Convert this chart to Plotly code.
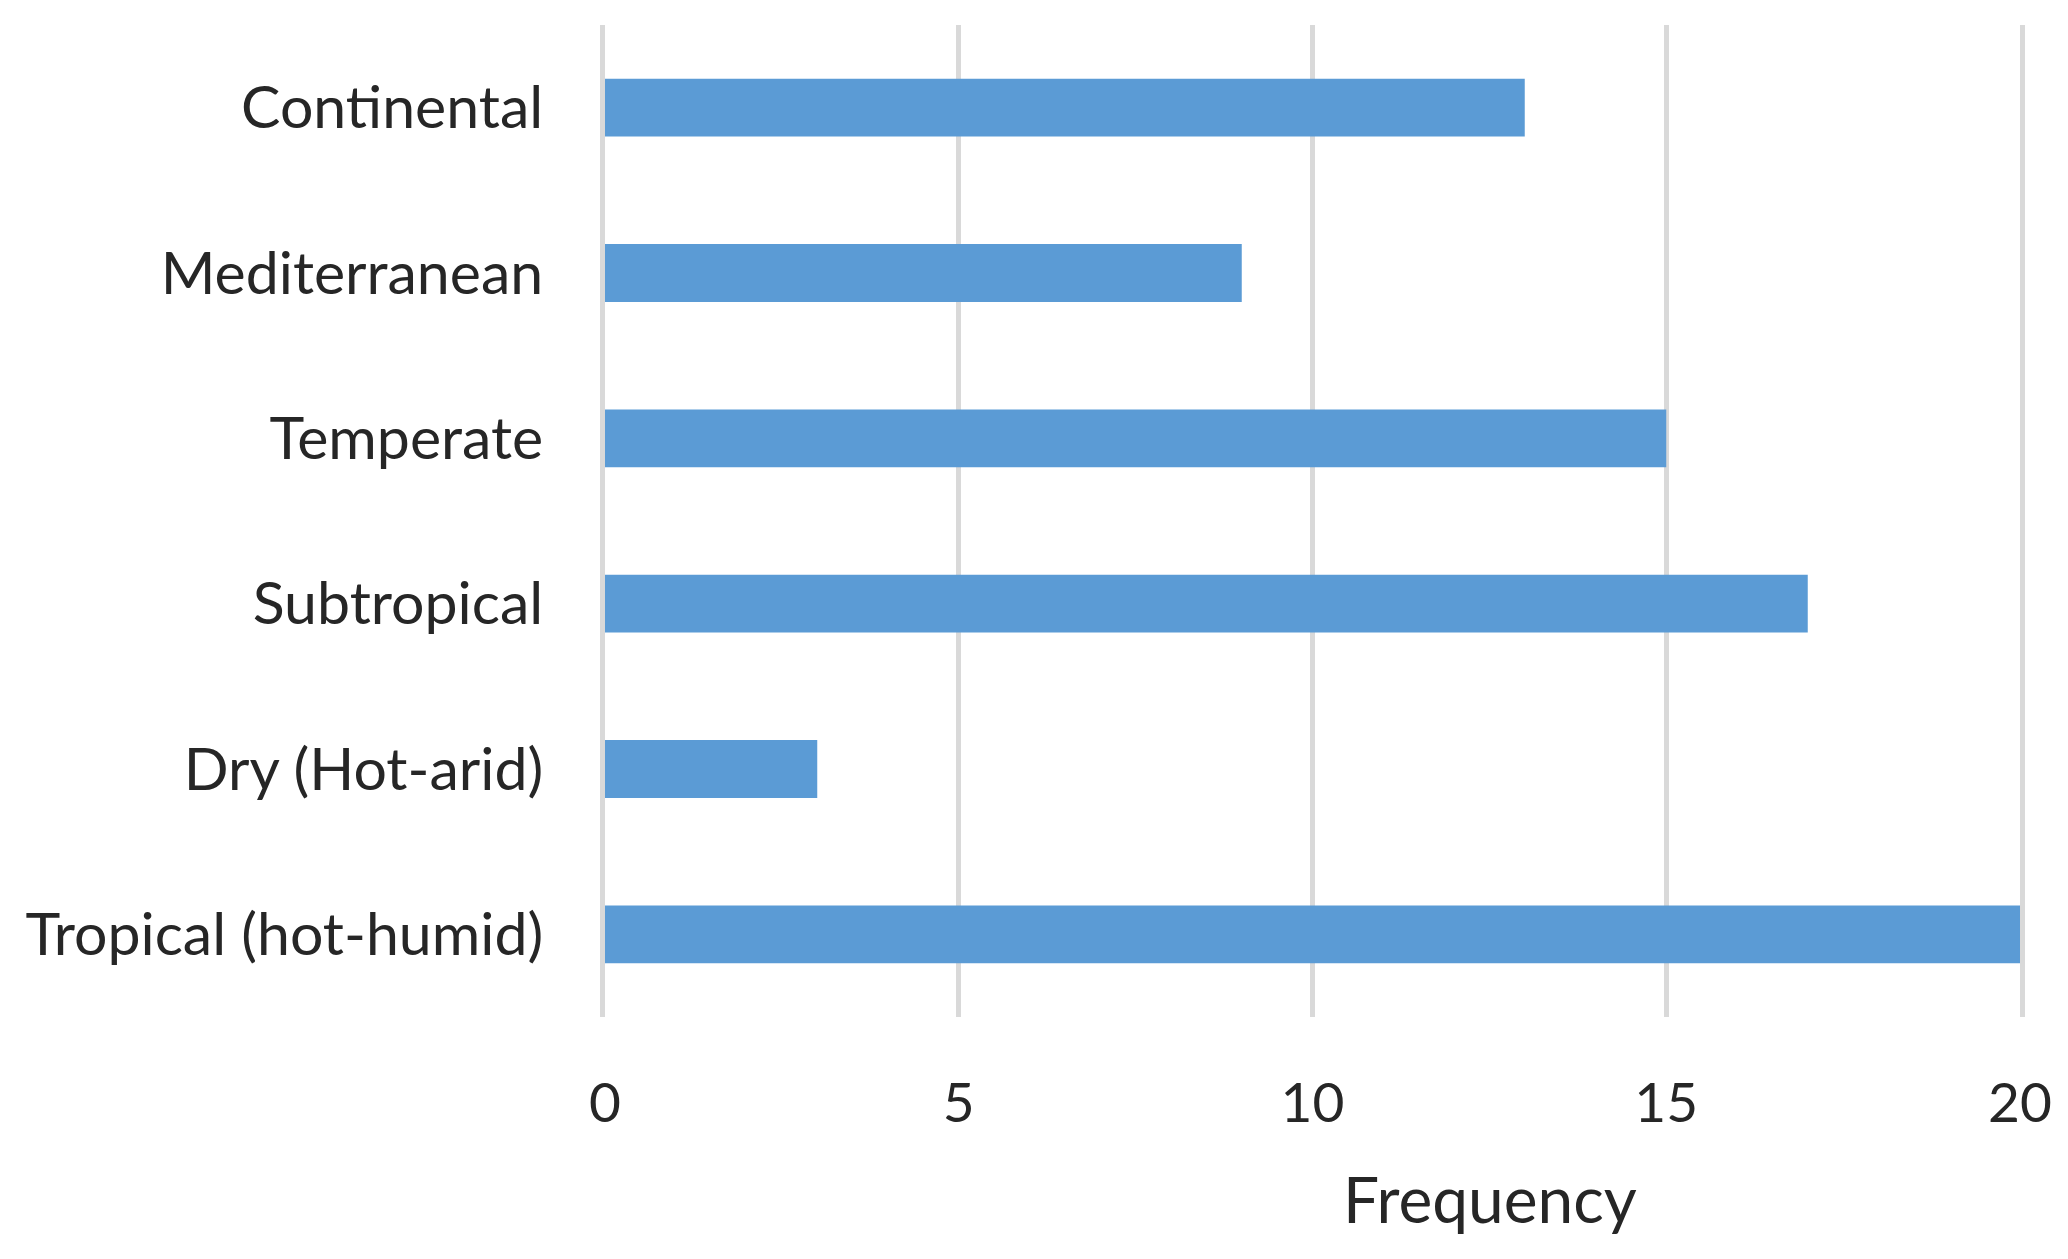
import plotly.graph_objects as go

categories = ["Continental", "Mediterranean", "Temperate", "Subtropical",
              "Dry (Hot-arid)", "Tropical (hot-humid)"]
frequency = [13, 9, 15, 17, 3, 20]
x_ticks = [0, 5, 10, 15, 20]
x_title = "Frequency"

W, H = 2068, 1259
L, R, T, B = 597, 56, 17, 250
FONT = "Lato"
TXT = "#262626"
GRID = "#d9d9d9"

fig = go.Figure(go.Bar(
    x=frequency, y=categories, orientation="h",
    marker=dict(color="#5B9BD5", line=dict(width=0)),
))

fig.update_layout(
    width=W, height=H,
    margin=dict(l=L, r=R, t=T, b=B),
    paper_bgcolor="white", plot_bgcolor="white",
    bargap=0.65,
    showlegend=False,
    font=dict(family=FONT, size=57, color=TXT),
    xaxis=dict(
        range=[0, 20], tickvals=x_ticks, showgrid=True,
        gridcolor=GRID, gridwidth=5, zeroline=False,
        showline=False, ticks="", ticklabelstandoff=49,
        tickfont=dict(family=FONT, size=55, color=TXT),
    ),
    yaxis=dict(
        autorange="reversed", showgrid=False, zeroline=False,
        showline=True, linecolor=GRID, linewidth=5, mirror=True,
        ticks="", ticklabelstandoff=45,
        tickfont=dict(family=FONT, size=59, color=TXT),
    ),
    annotations=[dict(
        text=x_title, xref="paper", yref="paper",
        x=(1482 - L) / (W - L - R), y=0, xanchor="center", yanchor="middle",
        yshift=-181, showarrow=False,
        font=dict(family=FONT, size=64, color=TXT),
    )],
)

fig.write_html("out.html")
